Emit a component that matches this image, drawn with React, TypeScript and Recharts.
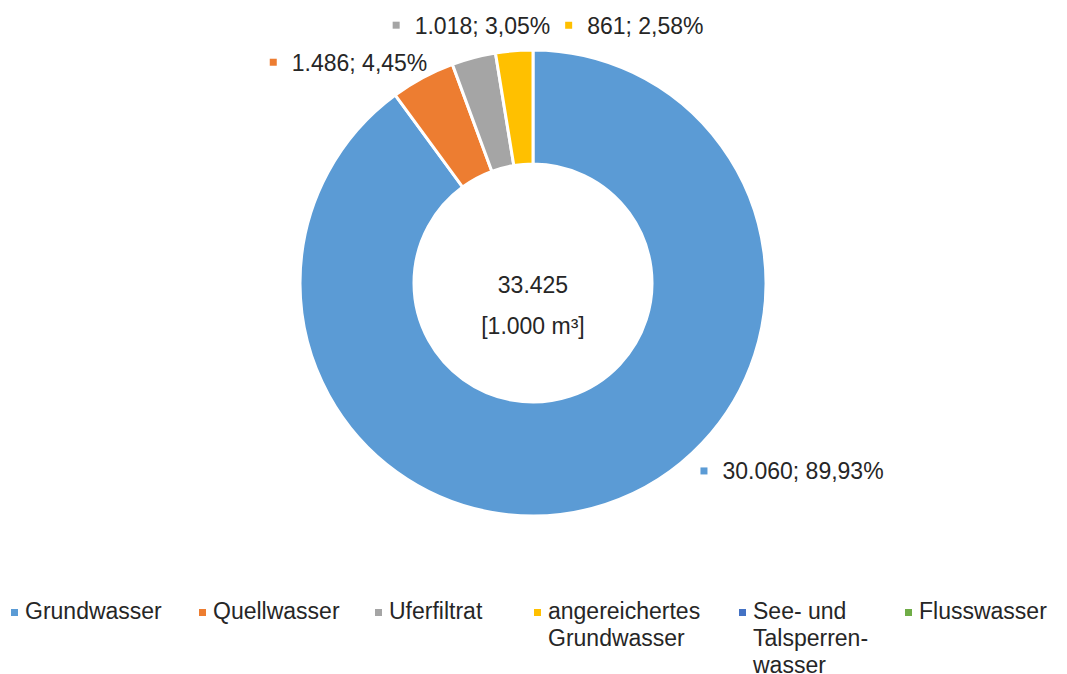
import type { JSX } from "react";
import { PieChart, Pie, Cell, Legend } from "recharts";

const names = [
  "Grundwasser",
  "Quellwasser",
  "Uferfiltrat",
  "angereichertes Grundwasser",
  "See- und Talsperrenwasser",
  "Flusswasser",
];
const legendLabels = [
  "Grundwasser",
  "Quellwasser",
  "Uferfiltrat",
  "angereichertes\nGrundwasser",
  "See- und\nTalsperren-\nwasser",
  "Flusswasser",
];
const values = [30060, 1486, 1018, 861, 0, 0];
const colors = ["#5B9BD5", "#ED7D31", "#A5A5A5", "#FFC000", "#4472C4", "#70AD47"];
const centerUnit = "[1.000 m³]";

// label marker offset from the slice's outer mid point (Excel-like placement)
const labelOffsets = [
  [98, -34],
  [-150, -16],
  [-78, -33],
  [54, -26],
  [0, 0],
  [0, 0],
];
const legendWidths = [188, 176, 159, 205, 166, 150];

const FONT = "'Liberation Sans', Arial, sans-serif";
const TEXT = "#262626";
const RAD = Math.PI / 180;

const total = values.reduce((a, b) => a + b, 0);
const chartData = names.map((name, i) => ({ name, value: values[i] }));

const fmtThousands = (n: number): string =>
  String(n).replace(/\B(?=(\d{3})+(?!\d))/g, ".");
const fmtPct = (n: number): string => (n * 100).toFixed(2).replace(".", ",") + "%";

const renderLabel = (props: any): JSX.Element | null => {
  const { cx, cy, midAngle, outerRadius, index, value } = props;
  if (!value) return null;
  const x = cx + outerRadius * Math.cos(-midAngle * RAD) + labelOffsets[index][0];
  const y = cy + outerRadius * Math.sin(-midAngle * RAD) + labelOffsets[index][1];
  return (
    <g>
      <rect x={x - 3} y={y - 3} width={7} height={7} fill={colors[index]} />
      <text
        x={x + 19}
        y={y + 1}
        fill={TEXT}
        fontSize={23}
        fontFamily={FONT}
        dominantBaseline="central"
      >
        {`${fmtThousands(value)}; ${fmtPct(value / total)}`}
      </text>
      {index === 0 && (
        <g fontFamily={FONT} fontSize={23} fill={TEXT} textAnchor="middle">
          <text x={cx} y={cy + 2} dominantBaseline="central">
            {fmtThousands(total)}
          </text>
          <text x={cx} y={cy + 43} dominantBaseline="central">
            {centerUnit}
          </text>
        </g>
      )}
    </g>
  );
};

const renderLegend = (): JSX.Element => (
  <div style={{ display: "flex", fontFamily: FONT, fontSize: 23, color: TEXT }}>
    {legendLabels.map((label, i) => (
      <div
        key={names[i]}
        style={{ width: legendWidths[i], display: "flex", alignItems: "flex-start" }}
      >
        <span
          style={{
            width: 7,
            height: 7,
            background: colors[i],
            marginTop: 11,
            marginRight: 7,
            flexShrink: 0,
          }}
        />
        <span style={{ whiteSpace: "pre-line", lineHeight: "27px" }}>{label}</span>
      </div>
    ))}
  </div>
);

const App = (): JSX.Element => {
  return (
    <PieChart
      width={1051}
      height={666}
      margin={{ top: 0, right: 0, bottom: 0, left: 0 }}
    >
      <Pie
        data={chartData}
        dataKey="value"
        nameKey="name"
        cx={525}
        cy={275}
        innerRadius={119}
        outerRadius={233}
        startAngle={90}
        endAngle={-270}
        stroke="#FFFFFF"
        strokeWidth={3}
        label={renderLabel}
        labelLine={false}
        isAnimationActive={false}
      >
        {chartData.map((d, i) => (
          <Cell key={d.name} fill={colors[i]} />
        ))}
      </Pie>
      <Legend
        content={renderLegend}
        wrapperStyle={{ left: 3, top: 590, width: 1048 }}
      />
    </PieChart>
  );
};

export default App;
